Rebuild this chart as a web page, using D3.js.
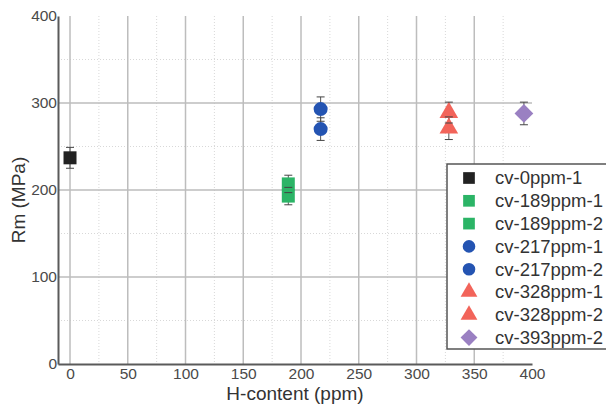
<!DOCTYPE html>
<html lang="en">
<head>
  <meta charset="UTF-8">
  <title>Rm vs H-content</title>
  <script src="https://d3js.org/d3.v7.min.js"></script>
  <style>
    body {
      margin: 0;
      background: #fff;
      font-family: "Liberation Sans", Arial, sans-serif;
    }
    #chart {
      display: block;
    }
  </style>
</head>
<body>
  <svg id="chart" width="606" height="405"></svg>

  <script>
    // data
    const series = ["cv-0ppm-1", "cv-189ppm-1", "cv-189ppm-2", "cv-217ppm-1",
                    "cv-217ppm-2", "cv-328ppm-1", "cv-328ppm-2", "cv-393ppm-2"];
    const hContent = [0, 189, 189, 217, 217, 328, 328, 393];
    const rm = [237, 207, 193, 293, 270, 289, 271, 288];
    const rmErr = [12, 10, 10, 14, 13, 12, 13, 13];
    const shapes = ["square", "square", "square", "circle", "circle", "triangle", "triangle", "diamond"];
    const colors = ["#222222", "#2bb466", "#2bb466", "#2454b2", "#2454b2", "#f2645a", "#f2645a", "#9a80c2"];

    const xTicks = [0, 50, 100, 150, 200, 250, 300, 350, 400];
    const yTicks = [0, 100, 200, 300, 400];
    const xMajorGrid = [0, 50, 100, 150, 200, 250, 300, 350];
    const xMinorGrid = [25, 75, 125, 175, 225, 275, 325, 375];
    const yMajorGrid = [100, 200, 300];
    const yMinorGrid = [50, 150, 250, 350];

    const svg = d3.select("#chart");

    const x = d3.scaleLinear().domain([-10.4, 400]).range([58, 532]);
    const y = d3.scaleLinear().domain([0, 400]).range([364, 16]);

    // grid
    const grid = svg.append("g");
    grid.selectAll(".vmin").data(xMinorGrid).enter().append("line")
      .attr("x1", d => x(d)).attr("x2", d => x(d))
      .attr("y1", y(400)).attr("y2", y(0))
      .attr("stroke", "#d8d8d8").attr("stroke-width", 1).attr("stroke-dasharray", "1,2");
    grid.selectAll(".hmin").data(yMinorGrid).enter().append("line")
      .attr("x1", x(-10.4)).attr("x2", x(400))
      .attr("y1", d => y(d)).attr("y2", d => y(d))
      .attr("stroke", "#d8d8d8").attr("stroke-width", 1).attr("stroke-dasharray", "1,2");
    grid.selectAll(".vmaj").data(xMajorGrid).enter().append("line")
      .attr("x1", d => x(d)).attr("x2", d => x(d))
      .attr("y1", y(400)).attr("y2", y(0))
      .attr("stroke", "#bdbdbd").attr("stroke-width", 1.5);
    grid.selectAll(".hmaj").data(yMajorGrid).enter().append("line")
      .attr("x1", x(-10.4)).attr("x2", x(400))
      .attr("y1", d => y(d)).attr("y2", d => y(d))
      .attr("stroke", "#bdbdbd").attr("stroke-width", 1.5);

    // axes
    const xAxis = svg.append("g")
      .attr("transform", `translate(0,${y(0)})`)
      .call(d3.axisBottom(x).tickValues(xTicks).tickSize(0).tickPadding(4));
    const yAxis = svg.append("g")
      .attr("transform", `translate(${x(-10.4)},0)`)
      .call(d3.axisLeft(y).tickValues(yTicks).tickSize(0).tickPadding(1));

    [xAxis, yAxis].forEach(a => {
      a.select(".domain").attr("stroke", "#5a5a5a").attr("stroke-width", 2);
      a.selectAll("text")
        .attr("fill", "#4a4a4a")
        .style("font-family", "'Liberation Sans', Arial, sans-serif")
        .style("font-size", "15.5px");
    });

    // markers
    function symbolFor(s) {
      if (s === "square") return d3.symbol(d3.symbolSquare, 169)();
      if (s === "circle") return d3.symbol(d3.symbolCircle, 154)();
      if (s === "triangle") return d3.symbol(d3.symbolTriangle, 150)();
      return d3.symbol(d3.symbolSquare, 176)();
    }

    const points = series.map((s, i) => ({
      name: s, h: hContent[i], v: rm[i], e: rmErr[i], shape: shapes[i], color: colors[i]
    }));

    // error bar stems behind the markers
    const stems = svg.append("g").attr("stroke", "#555").attr("stroke-width", 1);
    points.forEach(p => {
      stems.append("line")
        .attr("x1", x(p.h)).attr("x2", x(p.h))
        .attr("y1", y(p.v + p.e)).attr("y2", y(p.v - p.e));
    });

    const pts = svg.append("g");
    points.forEach(p => {
      pts.append("path")
        .attr("d", symbolFor(p.shape))
        .attr("transform", `translate(${x(p.h)},${y(p.v)})` + (p.shape === "diamond" ? " rotate(45)" : ""))
        .attr("fill", p.color);
    });

    // caps on top
    const caps = svg.append("g").attr("stroke", "#444").attr("stroke-width", 1);
    points.forEach(p => {
      [p.v + p.e, p.v - p.e].forEach(v => {
        caps.append("line")
          .attr("x1", x(p.h) - 4).attr("x2", x(p.h) + 4)
          .attr("y1", y(v)).attr("y2", y(v));
      });
    });

    // axis titles
    svg.append("text")
      .attr("x", 295)
      .attr("y", 400)
      .attr("text-anchor", "middle")
      .attr("font-size", "19px")
      .attr("fill", "#333")
      .text("H-content (ppm)");

    svg.append("text")
      .attr("transform", "rotate(-90)")
      .attr("x", -200)
      .attr("y", 25)
      .attr("text-anchor", "middle")
      .attr("font-size", "19px")
      .attr("fill", "#333")
      .text("Rm (MPa)");

    // legend
    const legend = svg.append("g");
    legend.append("rect")
      .attr("x", 447).attr("y", 164)
      .attr("width", 170).attr("height", 185)
      .attr("fill", "#fff")
      .attr("stroke", "#555").attr("stroke-width", 1.5);

    const item = legend.selectAll(".item").data(points).enter().append("g")
      .attr("transform", (d, i) => `translate(469,${178 + i * 22.8})`);

    item.append("path")
      .attr("d", d => symbolFor(d.shape))
      .attr("transform", d => d.shape === "diamond" ? "rotate(45) scale(0.9)" : "scale(0.9)")
      .attr("fill", d => d.color);

    item.append("text")
      .attr("x", 26)
      .attr("dy", "0.35em")
      .attr("font-size", "18.5px")
      .attr("fill", "#333")
      .text(d => d.name);
  </script>
</body>
</html>
